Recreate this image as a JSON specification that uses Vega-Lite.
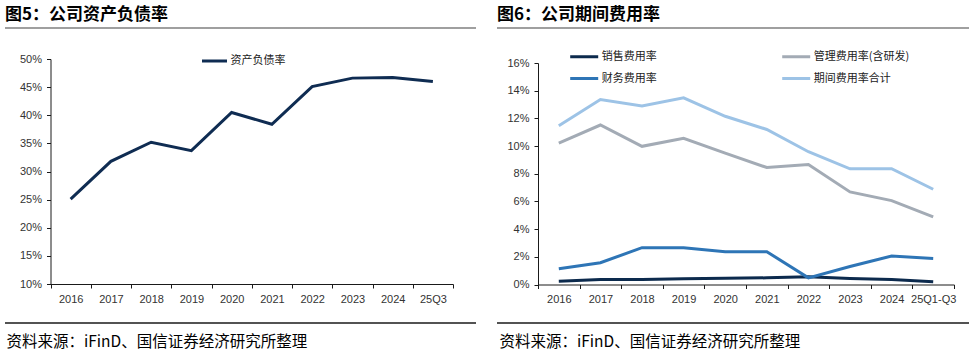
{
  "$schema": "https://vega.github.io/schema/vega-lite/v6.json",
  "background": "white",
  "padding": {"left": 4, "top": 5, "right": 4, "bottom": 4},
  "bounds": "flush",
  "spacing": 21,
  "resolve": {"scale": {"color": "independent", "x": "independent", "y": "independent"}, "legend": {"color": "independent"}},
  "datasets": {
    "debt": [
      {"period": "2016", "series": "资产负债率", "value": 0.251},
      {"period": "2017", "series": "资产负债率", "value": 0.318},
      {"period": "2018", "series": "资产负债率", "value": 0.352},
      {"period": "2019", "series": "资产负债率", "value": 0.337},
      {"period": "2020", "series": "资产负债率", "value": 0.405},
      {"period": "2021", "series": "资产负债率", "value": 0.384},
      {"period": "2022", "series": "资产负债率", "value": 0.451},
      {"period": "2023", "series": "资产负债率", "value": 0.466},
      {"period": "2024", "series": "资产负债率", "value": 0.467},
      {"period": "25Q3", "series": "资产负债率", "value": 0.460}
    ],
    "expense": [
      {"period": "2016", "series": "销售费用率", "value": 0.0024},
      {"period": "2017", "series": "销售费用率", "value": 0.0036},
      {"period": "2018", "series": "销售费用率", "value": 0.0036},
      {"period": "2019", "series": "销售费用率", "value": 0.0041},
      {"period": "2020", "series": "销售费用率", "value": 0.0046},
      {"period": "2021", "series": "销售费用率", "value": 0.0048},
      {"period": "2022", "series": "销售费用率", "value": 0.0056},
      {"period": "2023", "series": "销售费用率", "value": 0.0043},
      {"period": "2024", "series": "销售费用率", "value": 0.0036},
      {"period": "25Q1-Q3", "series": "销售费用率", "value": 0.0019},
      {"period": "2016", "series": "管理费用率(含研发)", "value": 0.1022},
      {"period": "2017", "series": "管理费用率(含研发)", "value": 0.1152},
      {"period": "2018", "series": "管理费用率(含研发)", "value": 0.0998},
      {"period": "2019", "series": "管理费用率(含研发)", "value": 0.1056},
      {"period": "2020", "series": "管理费用率(含研发)", "value": 0.0949},
      {"period": "2021", "series": "管理费用率(含研发)", "value": 0.0845},
      {"period": "2022", "series": "管理费用率(含研发)", "value": 0.0867},
      {"period": "2023", "series": "管理费用率(含研发)", "value": 0.0669},
      {"period": "2024", "series": "管理费用率(含研发)", "value": 0.0606},
      {"period": "25Q1-Q3", "series": "管理费用率(含研发)", "value": 0.0488},
      {"period": "2016", "series": "财务费用率", "value": 0.0114},
      {"period": "2017", "series": "财务费用率", "value": 0.0157},
      {"period": "2018", "series": "财务费用率", "value": 0.0266},
      {"period": "2019", "series": "财务费用率", "value": 0.0266},
      {"period": "2020", "series": "财务费用率", "value": 0.0237},
      {"period": "2021", "series": "财务费用率", "value": 0.0237},
      {"period": "2022", "series": "财务费用率", "value": 0.0048},
      {"period": "2023", "series": "财务费用率", "value": 0.0130},
      {"period": "2024", "series": "财务费用率", "value": 0.0205},
      {"period": "25Q1-Q3", "series": "财务费用率", "value": 0.0188},
      {"period": "2016", "series": "期间费用率合计", "value": 0.1147},
      {"period": "2017", "series": "期间费用率合计", "value": 0.1336},
      {"period": "2018", "series": "期间费用率合计", "value": 0.1290},
      {"period": "2019", "series": "期间费用率合计", "value": 0.1348},
      {"period": "2020", "series": "期间费用率合计", "value": 0.1215},
      {"period": "2021", "series": "期间费用率合计", "value": 0.1120},
      {"period": "2022", "series": "期间费用率合计", "value": 0.0959},
      {"period": "2023", "series": "期间费用率合计", "value": 0.0836},
      {"period": "2024", "series": "期间费用率合计", "value": 0.0836},
      {"period": "25Q1-Q3", "series": "期间费用率合计", "value": 0.0688}
    ]
  },
  "hconcat": [
    {
      "width": 471,
      "height": 295,
      "data": {"name": "debt"},
      "title": {"text": "图5：公司资产负债率", "anchor": "start", "frame": "group", "offset": 4, "fontSize": 17, "font": "Noto Sans CJK SC", "fontWeight": "bold", "color": "#000000"},
      "view": {
        "fill": null,
        "strokeWidth": 1.6,
        "strokeDash": [471, 295, 471, 295],
        "stroke": {"gradient": "linear", "x1": 0, "y1": 0, "x2": 0, "y2": 1, "stops": [{"offset": 0, "color": "#808080"}, {"offset": 0.5, "color": "#808080"}, {"offset": 0.5, "color": "#1a1a1a"}, {"offset": 1, "color": "#1a1a1a"}]}
      },
      "mark": {"type": "line", "strokeWidth": 3, "strokeJoin": "miter"},
      "encoding": {
        "x": {
          "field": "period", "type": "nominal", "sort": null,
          "scale": {"type": "band", "range": [45.5, 448], "paddingInner": 0, "paddingOuter": 0},
          "axis": {
            "orient": "bottom", "offset": -39, "tickBand": "extent", "labelAngle": 0, "labelPadding": 5, "tickSize": 4,
            "title": "资料来源：iFinD、国信证券经济研究所整理", "titleX": 1, "titleY": 57.5, "titleAlign": "left", "titleBaseline": "middle", "titleAnchor": "start"
          }
        },
        "y": {
          "field": "value", "type": "quantitative",
          "scale": {"domain": [0.1, 0.5], "range": [256, 31], "nice": false, "zero": false},
          "axis": {"orient": "left", "offset": -45.5, "values": [0.1, 0.15, 0.2, 0.25, 0.3, 0.35, 0.4, 0.45, 0.5], "format": ".0%", "tickSize": 4, "labelPadding": 5, "title": null}
        },
        "color": {
          "field": "series", "type": "nominal",
          "scale": {"domain": ["资产负债率"], "range": ["#0f2c52"]},
          "legend": {"orient": "none", "legendX": 195.5, "legendY": 19, "symbolSize": 625, "title": null}
        }
      }
    },
    {
      "width": 472,
      "height": 295,
      "data": {"name": "expense"},
      "title": {"text": "图6：公司期间费用率", "anchor": "start", "frame": "group", "offset": 4, "fontSize": 17, "font": "Noto Sans CJK SC", "fontWeight": "bold", "color": "#000000"},
      "view": {
        "fill": null,
        "strokeWidth": 1.6,
        "strokeDash": [472, 295, 472, 295],
        "stroke": {"gradient": "linear", "x1": 0, "y1": 0, "x2": 0, "y2": 1, "stops": [{"offset": 0, "color": "#808080"}, {"offset": 0.5, "color": "#808080"}, {"offset": 0.5, "color": "#1a1a1a"}, {"offset": 1, "color": "#1a1a1a"}]}
      },
      "mark": {"type": "line", "strokeWidth": 3, "strokeJoin": "miter"},
      "encoding": {
        "x": {
          "field": "period", "type": "nominal", "sort": null,
          "scale": {"type": "band", "range": [41, 457], "paddingInner": 0, "paddingOuter": 0},
          "axis": {
            "orient": "bottom", "offset": -38.5, "tickBand": "extent", "labelAngle": 0, "labelPadding": 5, "tickSize": 4,
            "title": "资料来源：iFinD、国信证券经济研究所整理", "titleX": 2, "titleY": 57, "titleAlign": "left", "titleBaseline": "middle", "titleAnchor": "start"
          }
        },
        "y": {
          "field": "value", "type": "quantitative",
          "scale": {"domain": [0, 0.16], "range": [256.5, 35], "nice": false},
          "axis": {"orient": "left", "offset": -41, "values": [0, 0.02, 0.04, 0.06, 0.08, 0.1, 0.12, 0.14, 0.16], "format": ".0%", "tickSize": 4, "labelPadding": 5, "title": null}
        },
        "color": {
          "field": "series", "type": "nominal",
          "scale": {"domain": ["销售费用率", "管理费用率(含研发)", "财务费用率", "期间费用率合计"], "range": ["#0c2a4d", "#a3abb5", "#2e75b6", "#9dc3e6"]},
          "legend": {"orient": "none", "direction": "horizontal", "legendX": 71.7, "legendY": 13, "columns": 2, "columnPadding": 119, "rowPadding": -16, "symbolSize": 784, "title": null}
        }
      }
    }
  ],
  "config": {
    "font": "Liberation Sans",
    "view": {"stroke": null},
    "axis": {
      "grid": false,
      "labelFont": "Liberation Sans",
      "labelFontSize": 11,
      "labelColor": "#333333",
      "domainColor": "#1a1a1a",
      "domainWidth": 1,
      "tickColor": "#1a1a1a",
      "titleFont": "Noto Sans CJK SC",
      "titleFontSize": 15.5,
      "titleFontWeight": "normal",
      "titleColor": "#000000"
    },
    "legend": {
      "padding": 0,
      "symbolType": "stroke",
      "symbolStrokeWidth": 3,
      "labelFont": "Noto Sans CJK SC",
      "labelFontSize": 11,
      "labelColor": "#222222",
      "labelOffset": 2,
      "labelLimit": 300
    }
  }
}
